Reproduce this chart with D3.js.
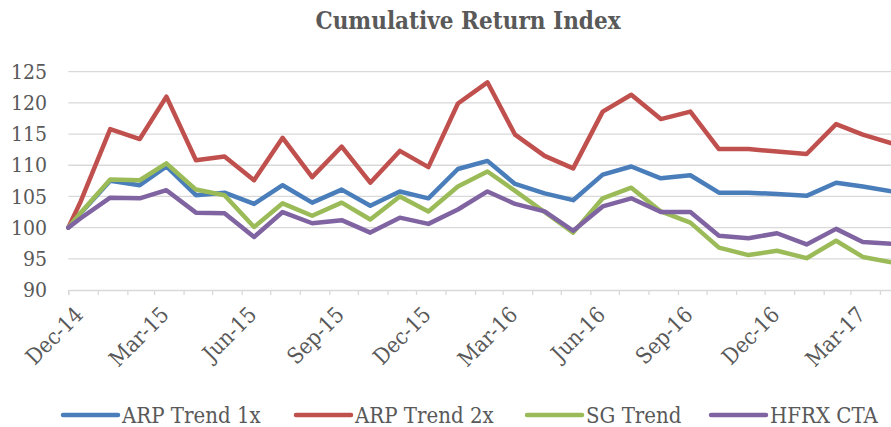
<!DOCTYPE html>
<html>
<head>
<meta charset="utf-8">
<script src="https://cdn.jsdelivr.net/npm/d3@7"></script>
<style>
  body { margin: 0; background: #fff; }
  svg { display: block; font-family: "DejaVu Serif Condensed", "DejaVu Serif", serif; font-stretch: condensed; }
</style>
</head>
<body>
<div id="chart"></div>
<script>
const width = 891;
const height = 427;

// monthly observations, first point is the base (100)
const dates = [
  "2014-12-01", "2014-12-14",
  "2015-01-14", "2015-02-14", "2015-03-14", "2015-04-14", "2015-05-14", "2015-06-14",
  "2015-07-14", "2015-08-14", "2015-09-14", "2015-10-14", "2015-11-14", "2015-12-14",
  "2016-01-14", "2016-02-14", "2016-03-14", "2016-04-14", "2016-05-14", "2016-06-14",
  "2016-07-14", "2016-08-14", "2016-09-14", "2016-10-14", "2016-11-14", "2016-12-14",
  "2017-01-14", "2017-02-14", "2017-03-14", "2017-04-14"
];

const arpTrend1x = [
  100, 102.3, 107.5, 106.8, 109.8, 105.2, 105.6, 103.8, 106.8, 104.0, 106.1, 103.5, 105.8, 104.7,
  109.4, 110.7, 107.0, 105.5, 104.4, 108.5, 109.8, 107.9, 108.4, 105.6, 105.6, 105.4,
  105.1, 107.2, 106.6, 105.8
];
const arpTrend2x = [
  100, 104.2, 115.8, 114.2, 121.0, 110.8, 111.4, 107.6, 114.4, 108.1, 113.0, 107.2, 112.3, 109.7,
  119.9, 123.3, 114.9, 111.5, 109.5, 118.6, 121.3, 117.4, 118.6, 112.6, 112.6, 112.2,
  111.8, 116.6, 114.9, 113.5
];
const sgTrend = [
  100, 102.4, 107.7, 107.6, 110.3, 106.1, 105.2, 100.1, 103.9, 101.9, 104.0, 101.3, 105.0, 102.6,
  106.6, 109.0, 105.9, 102.5, 99.2, 104.7, 106.4, 102.6, 100.8, 96.8, 95.6, 96.3,
  95.1, 97.9, 95.3, 94.4
];
const hfrxCta = [
  100, 101.5, 104.8, 104.7, 106.0, 102.4, 102.3, 98.5, 102.5, 100.7, 101.2, 99.2, 101.6, 100.6,
  102.9, 105.8, 103.8, 102.6, 99.5, 103.4, 104.7, 102.5, 102.5, 98.7, 98.3, 99.1,
  97.3, 99.8, 97.7, 97.4
];

const seriesNames = ["ARP Trend 1x", "ARP Trend 2x", "SG Trend", "HFRX CTA"];
const seriesColors = ["#4a7ebb", "#c0504d", "#9bbb59", "#8064a2"];
const yTicks = [90, 95, 100, 105, 110, 115, 120, 125];

const parse = d3.utcParse("%Y-%m-%d");
const series = [arpTrend1x, arpTrend2x, sgTrend, hfrxCta].map((vals, i) => ({
  name: seriesNames[i],
  color: seriesColors[i],
  values: vals.map((v, j) => ({ date: parse(dates[j]), value: v }))
}));

const svg = d3.select("#chart").append("svg")
  .attr("width", width)
  .attr("height", height);

const xScale = d3.scaleUtc()
  .domain([parse("2014-12-01"), parse("2017-05-01")])
  .range([68.3, 908.5]);

const yScale = d3.scaleLinear()
  .domain([90, 125])
  .range([290, 71.7]);

// title
svg.append("text")
  .attr("x", 468)
  .attr("y", 29)
  .attr("text-anchor", "middle")
  .attr("fill", "#595959")
  .attr("font-size", "24px")
  .attr("font-weight", "bold")
  .text("Cumulative Return Index");

// gridlines
svg.append("g")
  .selectAll("line")
  .data(yTicks.filter((d) => d > 90))
  .enter()
  .append("line")
  .attr("x1", xScale.range()[0])
  .attr("x2", xScale.range()[1])
  .attr("y1", (d) => yScale(d))
  .attr("y2", (d) => yScale(d))
  .attr("stroke", "#d9d9d9")
  .attr("stroke-width", 1.3);

// y labels
const yAxis = svg.append("g")
  .attr("transform", "translate(47,0)")
  .call(d3.axisLeft(yScale).tickValues(yTicks).tickSize(0).tickPadding(0))
  .attr("font-family", null)
  .attr("font-size", null);
yAxis.select(".domain").remove();
yAxis.selectAll("text")
  .attr("fill", "#595959")
  .attr("font-size", "21px");

// x axis: month ticks, labels every quarter
const months = d3.utcMonth.range(parse("2014-12-01"), parse("2017-05-02"));
const xAxis = svg.append("g")
  .attr("transform", `translate(0,${yScale(90)})`)
  .call(d3.axisBottom(xScale).tickValues(months).tickSize(5).tickFormat(""));
xAxis.select(".domain").attr("stroke", "#d9d9d9").attr("stroke-width", 1.3);
xAxis.selectAll(".tick line").attr("stroke", "#d9d9d9").attr("stroke-width", 1.3);

const fmt = d3.utcFormat("%b-%y");
svg.append("g")
  .selectAll("text")
  .data(months.filter((d) => d.getUTCMonth() % 3 === 2))
  .enter()
  .append("text")
  .attr("transform", (d) => `translate(${xScale(d) + 5},${305}) rotate(-45)`)
  .attr("text-anchor", "end")
  .attr("dy", "0.72em")
  .attr("fill", "#595959")
  .attr("font-size", "22px")
  .text((d) => fmt(d));

// lines
const line = d3.line()
  .x((d) => xScale(d.date))
  .y((d) => yScale(d.value));

svg.append("g")
  .selectAll("path")
  .data(series)
  .enter()
  .append("path")
  .attr("d", (d) => line(d.values))
  .attr("fill", "none")
  .attr("stroke", (d) => d.color)
  .attr("stroke-width", 4.5)
  .attr("stroke-linejoin", "round")
  .attr("stroke-linecap", "round");

// legend
const legendX = [63, 296, 527, 711];
const legend = svg.append("g");
legend.selectAll("line")
  .data(series)
  .enter()
  .append("line")
  .attr("x1", (d, i) => legendX[i])
  .attr("x2", (d, i) => legendX[i] + 55)
  .attr("y1", 415)
  .attr("y2", 415)
  .attr("stroke", (d) => d.color)
  .attr("stroke-width", 4.5)
  .attr("stroke-linecap", "round");
legend.selectAll("text")
  .data(series)
  .enter()
  .append("text")
  .attr("x", (d, i) => legendX[i] + 59)
  .attr("y", 423)
  .attr("fill", "#595959")
  .attr("font-size", "22px")
  .text((d) => d.name);
</script>
</body>
</html>
